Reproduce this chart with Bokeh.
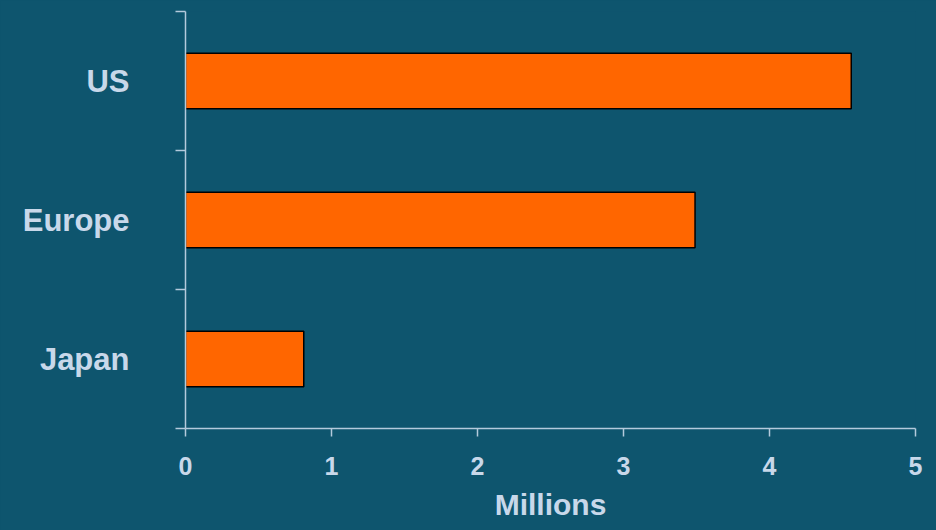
from bokeh.plotting import figure
from bokeh.models import FixedTicker, Range1d, ColumnDataSource
from bokeh.embed import file_html
from bokeh.resources import INLINE

# Data (bottom to top)
categories = ["Japan", "Europe", "US"]
values = [0.81, 3.49, 4.56]
x_ticks = [0, 1, 2, 3, 4, 5]
x_label = "Millions"

BG = "#0e556e"
FG = "#c8d8ea"
AXIS = "#b4cadc"
FONT = "Liberation Sans"

centers = [i + 0.5 for i in range(len(categories))]
boundaries = list(range(len(categories) + 1))

src = ColumnDataSource(dict(cat=categories, val=values, y=centers))

p = figure(width=936, height=530, output_backend="svg", toolbar_location=None,
           x_range=Range1d(0, 5), y_range=Range1d(0, len(categories)),
           min_border_left=185, min_border_right=21, min_border_top=11,
           min_border_bottom=102)
p.background_fill_color = BG
p.border_fill_color = BG
p.outline_line_color = None
p.outline_line_alpha = 0
p.grid.visible = False
p.styles = {"background-color": BG}

p.hbar(y="y", right="val", left=0, height=0.4, source=src,
       fill_color="#ff6600", line_color="#000000", line_width=1.5)

# x axis
xa = p.xaxis[0]
xa.ticker = FixedTicker(ticks=x_ticks)
xa.axis_line_color = AXIS
xa.axis_line_width = 1.5
xa.major_tick_line_color = AXIS
xa.major_tick_line_width = 1.5
xa.major_tick_out = 8
xa.major_tick_in = 0
xa.minor_tick_line_color = None
xa.major_label_text_color = FG
xa.major_label_text_font = FONT
xa.major_label_text_font_style = "bold"
xa.major_label_text_font_size = "25px"
xa.major_label_standoff = 20
xa.axis_label = x_label
xa.axis_label_text_color = FG
xa.axis_label_text_font = FONT
xa.axis_label_text_font_style = "bold"
xa.axis_label_text_font_size = "30px"
xa.axis_label_standoff = 10

# y axis
ya = p.yaxis[0]
ya.ticker = FixedTicker(ticks=centers, minor_ticks=boundaries)
ya.major_label_overrides = {c: n for c, n in zip(centers, categories)}
ya.axis_line_color = AXIS
ya.axis_line_width = 1.5
ya.major_tick_line_color = None
ya.major_tick_out = 0
ya.major_tick_in = 0
ya.minor_tick_line_color = AXIS
ya.minor_tick_line_width = 1.5
ya.minor_tick_out = 10
ya.minor_tick_in = 0
ya.major_label_text_color = FG
ya.major_label_text_font = FONT
ya.major_label_text_font_style = "bold"
ya.major_label_text_font_size = "31px"
ya.major_label_standoff = 46

open("out.html", "w").write(file_html(p, INLINE))
